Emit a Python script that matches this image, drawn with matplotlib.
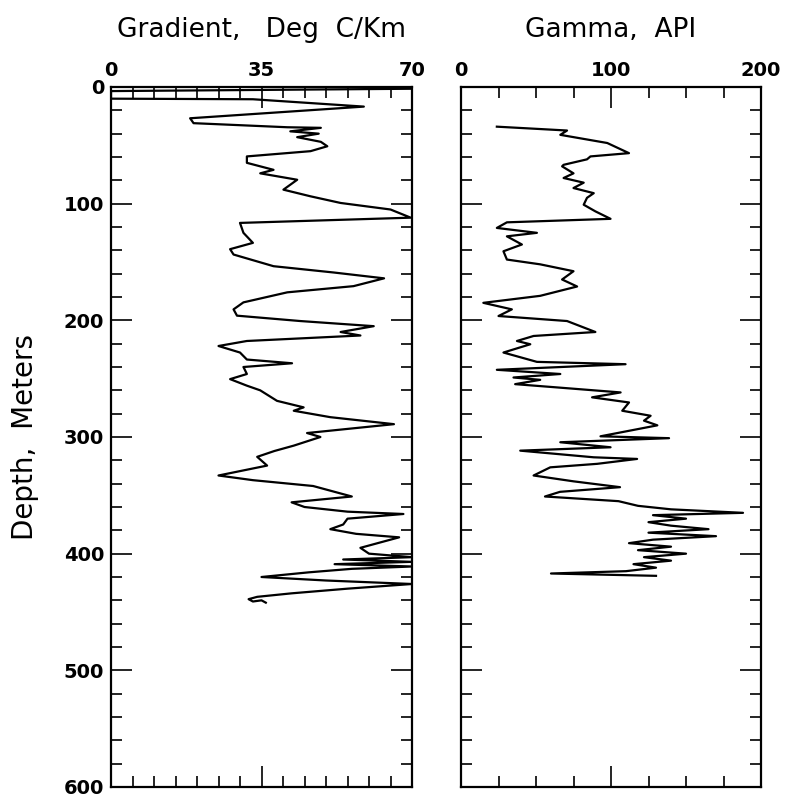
import numpy as np
import matplotlib.pyplot as plt
from matplotlib.ticker import MultipleLocator

# Gradient log (Deg C/Km) vs depth (m)
grad_depth = [1.5, 3.5, 10, 10.5, 16.8, 26.8, 31, 34.5, 35, 38, 40, 43, 47, 50.8, 55,
              59.5, 65, 71, 74, 79.5, 88, 93.7, 99.4, 105, 112, 116.5, 125, 133.6, 139,
              143.6, 153.6, 159, 164, 170.7, 176, 184.6, 190.6, 196, 200.6, 205, 210,
              213, 217.7, 222, 227.6, 233.6, 236.8, 240, 246, 250.4, 256, 260, 269,
              274.6, 277.5, 283, 289, 296.6, 300, 307.4, 312, 317, 324.5, 333,
              337, 342, 348, 351, 356, 360, 364, 366, 370, 375, 379, 383, 386, 390,
              395, 400, 403, 405, 407, 409, 411, 413, 416, 420, 423, 426, 430, 434,
              437, 439, 441, 440, 442]
grad_vals = [70, 0, 0, 33, 58.8, 18.4, 19.2, 41, 48.8, 41.7, 48.3, 43.3, 48.8, 50.3, 46.4,
             31.6, 31.6, 37.8, 34.7, 43.3, 40.1, 46.4, 53.4, 65, 69.7, 30, 30.8, 33, 27.7,
             28.5, 37.8, 51.8, 63.5, 56.4, 41, 30.8, 28.5, 29.3, 44, 61.1, 53.4,
             58, 31.6, 25, 30, 31.6, 42.1, 30.8, 31.6, 27.7, 31.6, 34.7, 38.6,
             44.8, 42.5, 51, 65.8, 45.6, 48.7, 42.5, 38, 34, 36.3, 25,
             33, 47, 53, 56, 42, 45, 55, 68, 55, 54, 51, 57, 67, 63,
             58, 60, 70, 54, 70, 52, 70, 56, 46, 35, 50, 70, 55, 42,
             34, 32, 33, 35, 36]

# Gamma log (API) vs depth (m)
gam_depth = [34, 37.3, 41, 48, 56.7, 59.5, 62, 66.7, 68, 74, 78, 82, 86.6, 91, 95,
             100.9, 106.6, 113, 116, 120.8, 125, 128, 135, 140.8, 147.9, 152, 157.9,
             165, 171, 179, 185, 190.6, 196.3, 200.6, 210, 213.4, 217.7, 220.5, 227.6,
             235.6, 237.6, 242.4, 246, 249, 251, 254.7, 257.5, 261.8, 266, 270.4,
             277.5, 281.8, 286, 290, 299.4, 301, 304.5, 308.8, 311.7, 317.4, 318.8,
             323, 326, 333, 338, 343, 347, 351, 355, 359, 362, 365, 367, 370, 373,
             376, 379, 382, 385, 388, 391, 394, 397, 400, 403, 406, 409, 412, 415, 417, 419]
gam_vals = [23.9, 70.7, 66.2, 97.5, 112, 86.3, 84, 68.4, 67.4, 75, 68.4, 81.8, 75, 88.5, 84,
            81.8, 89.6, 99.7, 30.6, 23.9, 50.6, 30.6, 40.6, 28.3, 30.6, 52.8, 75,
            67.4, 77.4, 52.8, 14.9, 33.9, 25, 70.7, 89.6, 48.4, 37.3, 46.2, 28.3,
            50.6, 109.7, 23.9, 66.2, 35, 52.8, 36.1, 64, 106.4, 87.4, 112,
            107.5, 126.4, 122, 130.9, 93, 138.7, 66.2, 99.7, 39.5, 88.5, 117.4,
            90.8, 59.5, 48.4, 75, 106, 66, 56, 105, 118, 140, 188, 128, 150, 125,
            140, 165, 125, 170, 128, 112, 140, 118, 150, 122, 140, 115, 130, 110, 60, 130]

W, H = 785, 797
fig = plt.figure(figsize=(W / 100, H / 100), dpi=100)
ax1 = fig.add_axes([111 / W, 1 - 787 / H, 301 / W, 700 / H])
ax2 = fig.add_axes([461 / W, 1 - 787 / H, 300 / W, 700 / H])

ax1.plot(grad_vals, grad_depth, color='black', lw=1.6)
ax2.plot(gam_vals, gam_depth, color='black', lw=1.6)

ax1.set_xlim(0, 70)
ax2.set_xlim(0, 200)
ax1.xaxis.set_major_locator(MultipleLocator(35))
ax1.xaxis.set_minor_locator(MultipleLocator(5))
ax2.xaxis.set_major_locator(MultipleLocator(100))
ax2.xaxis.set_minor_locator(MultipleLocator(25))

for ax in (ax1, ax2):
    ax.set_ylim(600, 0)
    ax.yaxis.set_major_locator(MultipleLocator(100))
    ax.yaxis.set_minor_locator(MultipleLocator(20))
    ax.tick_params(which='both', direction='in', top=True, bottom=True, left=True, right=True,
                   labeltop=True, labelbottom=False, width=1.2)
    ax.tick_params(which='major', length=15, labelsize=14, pad=5)
    ax.tick_params(which='minor', length=8)
    for sp in ax.spines.values():
        sp.set_linewidth(1.6)
    for lab in ax.get_xticklabels() + ax.get_yticklabels():
        lab.set_fontweight('bold')
    ax.xaxis.set_label_position('top')

ax2.tick_params(labelleft=False)

ax1.set_xlabel('Gradient,   Deg  C/Km', fontsize=19, labelpad=17)
ax2.set_xlabel('Gamma,  API', fontsize=19, labelpad=17)
ax1.set_ylabel('Depth,  Meters', fontsize=20, labelpad=18)

fig.savefig('out.png', dpi=100)
